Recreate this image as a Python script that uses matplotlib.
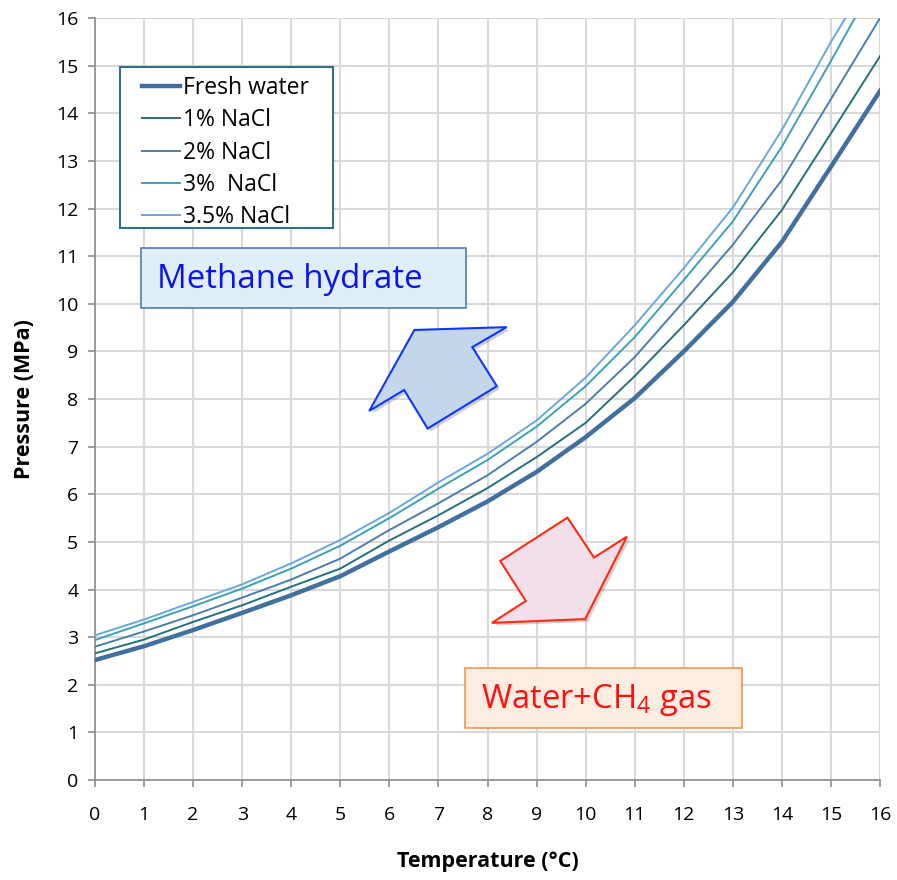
import matplotlib
matplotlib.use("Agg")
import matplotlib.pyplot as plt
from matplotlib.patches import Polygon, Rectangle
import matplotlib.patheffects as pe

plt.rcParams['font.family'] = ['Open Sans', 'DejaVu Sans']
plt.rcParams['mathtext.fontset'] = 'custom'
plt.rcParams['mathtext.rm'] = 'Open Sans'

# temperature (degC) and hydrate equilibrium pressure (MPa)
temp = [0, 1, 2, 3, 4, 5, 6, 7, 8, 9, 10, 11, 12, 13, 14, 15, 16]
p_fresh = [2.52, 2.81, 3.15, 3.51, 3.88, 4.28, 4.80, 5.31, 5.85, 6.47, 7.20, 8.02, 9.00, 10.04, 11.30, 12.88, 14.47]
p_1 = [2.66, 2.95, 3.32, 3.67, 4.06, 4.44, 5.03, 5.56, 6.13, 6.78, 7.50, 8.48, 9.55, 10.66, 11.97, 13.58, 15.20]
p_2 = [2.80, 3.12, 3.46, 3.83, 4.21, 4.65, 5.25, 5.81, 6.40, 7.10, 7.90, 8.88, 10.05, 11.24, 12.60, 14.30, 16.00]
p_3 = [2.94, 3.29, 3.65, 4.02, 4.44, 4.92, 5.50, 6.12, 6.72, 7.42, 8.27, 9.30, 10.50, 11.73, 13.30, 15.10, 16.95]
p_35 = [3.04, 3.37, 3.74, 4.11, 4.55, 5.04, 5.61, 6.25, 6.85, 7.55, 8.45, 9.55, 10.75, 12.02, 13.65, 15.50, 17.20]

labels = ['Fresh water', '1% NaCl', '2% NaCl', '3%  NaCl', '3.5% NaCl']
colors = ['#41709e', '#24707a', '#4a7db0', '#3aa2b4', '#6aa6de']
widths = [3.2, 1.4, 1.4, 1.4, 1.4]

fig = plt.figure(figsize=(8.97, 8.8), dpi=100)
ax = fig.add_axes([0.1059, 0.1136, 0.8752, 0.8659])

for p, lab, c, w in zip([p_fresh, p_1, p_2, p_3, p_35], labels, colors, widths):
    ax.plot(temp, p, color=c, lw=w, label=lab, zorder=3)

ax.set_xlim(0, 16)
ax.set_ylim(0, 16)
ax.set_xticks(range(0, 17))
ax.set_yticks(range(0, 17))
ax.grid(True, color='#d9d9d9', lw=1.5, zorder=0)
ax.set_axisbelow(True)
for s in ['top', 'right']:
    ax.spines[s].set_visible(False)
for s in ['left', 'bottom']:
    ax.spines[s].set_color('#8c8c8c')
    ax.spines[s].set_linewidth(1.2)
ax.tick_params(colors='#8c8c8c', labelcolor='black', labelsize=14, length=5, width=1.2)
ax.tick_params(axis='x', pad=14)
ax.tick_params(axis='y', pad=7)
ax.set_xlabel('Temperature (°C)', fontsize=15.5, fontweight='bold', labelpad=19)
ax.set_ylabel('Pressure (MPa)', fontsize=15.5, fontweight='bold', labelpad=15)

# legend with a hand-drawn frame so the padding matches
leg = ax.legend(loc='upper left', bbox_to_anchor=(0.0599, 0.9245), fontsize=16.5,
                frameon=False, handlelength=1.65, handletextpad=0.15,
                labelspacing=0.37, borderpad=0, borderaxespad=0)
leg.set_zorder(6)
ax.add_patch(Rectangle((0.0318, 0.7244), 0.2714, 0.2113, transform=ax.transAxes,
                       facecolor='white', edgecolor='#31708a', lw=1.5, zorder=5))

# region labels
ax.add_patch(Rectangle((0.94, 9.91), 6.62, 1.26, facecolor='#e0eef7',
                       edgecolor='#4f7fae', lw=1.2, zorder=4))
ax.text(1.26, 10.5, 'Methane hydrate', color='#0a14ee', fontsize=23.8,
        va='center', ha='left', zorder=5)
ax.add_patch(Rectangle((7.54, 1.09), 5.65, 1.26, facecolor='#fdede1',
                       edgecolor='#f79646', lw=1.2, zorder=4))
ax.text(7.87, 1.68, 'Water+CH$_\\mathregular{4}$ gas', color='#ff0f0f', fontsize=23.6,
        va='center', ha='left', zorder=5)

# block arrows
shadow = [pe.SimplePatchShadow(offset=(2, -2), alpha=0.25), pe.Normal()]
blue_arrow = [(6.51, 9.45), (8.39, 9.51), (7.69, 9.09), (8.19, 8.27),
              (6.78, 7.38), (6.30, 8.19), (5.59, 7.75)]
red_arrow = [(9.63, 5.51), (10.17, 4.67), (10.84, 5.11), (9.99, 3.38),
             (8.09, 3.30), (8.78, 3.76), (8.26, 4.60)]
ax.add_patch(Polygon(blue_arrow, closed=True, facecolor='#c4d6ea',
                     edgecolor='#1035ff', lw=1.5, zorder=4, path_effects=shadow))
ax.add_patch(Polygon(red_arrow, closed=True, facecolor='#f2dfea',
                     edgecolor='#ff2a10', lw=1.5, zorder=4, path_effects=shadow))

fig.savefig('out.png', dpi=100)
